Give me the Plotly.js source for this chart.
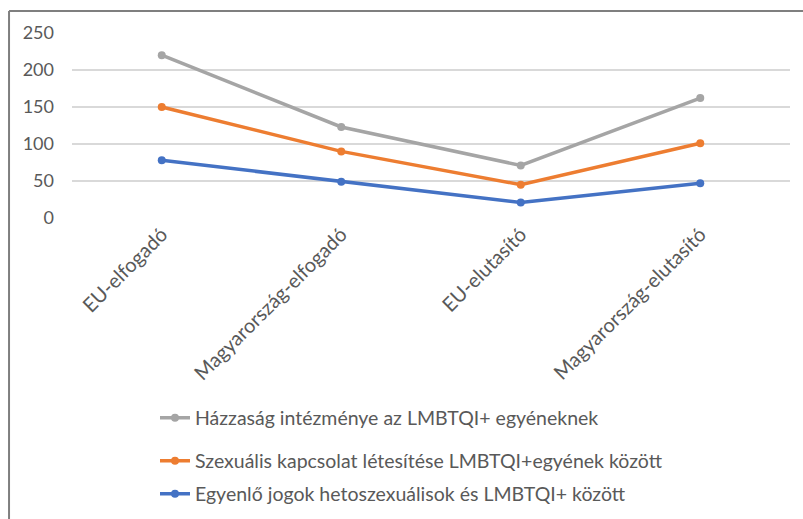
<!DOCTYPE html>
<html>
<head>
<meta charset="utf-8">
<script src="https://cdn.plot.ly/plotly-3.0.1.min.js"></script>
<style>html,body{margin:0;padding:0;background:#fff;}#chart{width:803px;height:519px;}</style>
</head>
<body>
<div id="chart"></div>
<script>
const categories = ["EU-elfogadó", "Magyarország-elfogadó", "EU-elutasító", "Magyarország-elutasító"];
const seriesNames = [
  "Házzaság intézménye az LMBTQI+ egyéneknek",
  "Szexuális kapcsolat létesítése LMBTQI+egyének között",
  "Egyenlő jogok hetoszexuálisok és LMBTQI+ között"
];
const marriage = [220, 123, 71, 162];
const sexualRelations = [150, 90, 45, 101];
const equalRights = [78, 49, 21, 47];
const yTicks = [0, 50, 100, 150, 200, 250];

const colors = ["#A5A5A5", "#ED7D31", "#4472C4"];
const values = [marriage, sexualRelations, equalRights];
const legends = ["legend", "legend2", "legend3"];

const traces = values.map((v, i) => ({
  type: "scatter",
  mode: "lines+markers",
  x: categories,
  y: v,
  name: seriesNames[i],
  legend: legends[i],
  line: {color: colors[i], width: 3.5},
  marker: {color: colors[i], size: 8},
  hoverinfo: "skip"
}));

const font = {family: "Lato, 'Liberation Sans', sans-serif", size: 18, color: "#595959"};
const legendBase = {
  orientation: "v", xanchor: "left", yanchor: "middle", x: 0.1156,
  yref: "container",
  font: {family: font.family, size: 19.5, color: "#595959"},
  bgcolor: "rgba(0,0,0,0)", borderwidth: 0
};

const layout = {
  width: 803, height: 519,
  margin: {l: 72, r: 13, t: 33, b: 301, autoexpand: false},
  paper_bgcolor: "#ffffff", plot_bgcolor: "#ffffff",
  font: font,
  showlegend: true,
  xaxis: {
    type: "category", showgrid: false, zeroline: false, showline: false,
    ticks: "", tickangle: -45, tickfont: {size: 20, color: "#595959"},
    range: [-0.5, 3.5], automargin: false
  },
  yaxis: {
    range: [0, 250], tickvals: yTicks, ticktext: yTicks.map(String),
    showgrid: true, gridcolor: "#D9D9D9", gridwidth: 1.3,
    zeroline: false, showline: false, ticks: "",
    tickfont: {size: 18, color: "#595959"}, ticklabelstandoff: 17, automargin: false
  },
  legend: Object.assign({}, legendBase, {y: 0.1946}),
  legend2: Object.assign({}, legendBase, {y: 0.1118}),
  legend3: Object.assign({}, legendBase, {y: 0.0482}),
  shapes: [
    {type: "line", xref: "paper", yref: "paper", x0: -0.0877, x1: -0.0877, y0: -2, y1: 1.119,
     line: {color: "#7F7F7F", width: 2}},
    {type: "line", xref: "paper", yref: "paper", x0: -0.0877, x1: 1.1, y0: 1.119, y1: 1.119,
     line: {color: "#7F7F7F", width: 2}}
  ]
};

Plotly.newPlot("chart", traces, layout, {displayModeBar: false, staticPlot: true});
</script>
</body>
</html>
